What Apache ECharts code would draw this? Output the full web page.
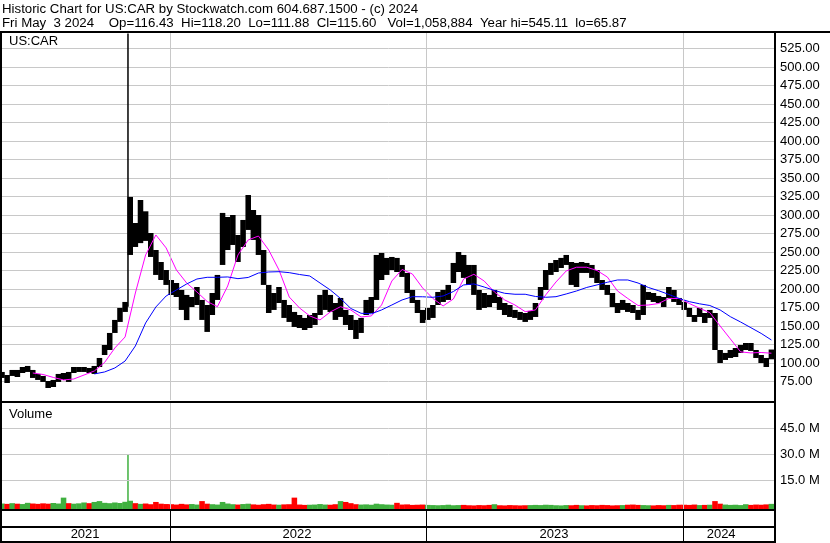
<!DOCTYPE html>
<html><head><meta charset="utf-8">
<script src="https://cdn.jsdelivr.net/npm/echarts@6/dist/echarts.min.js"></script>
<style>html,body{margin:0;padding:0;background:#fff}#c{width:830px;height:543px}</style>
</head><body><div id="c"></div>
<script>
// Weekly price ranges (week index 0 = first week shown, early May 2021)
const weekHigh = [87.9,83.8,90.6,90.6,94.6,96.0,90.6,85.2,82.5,75.7,77.1,85.2,86.5,87.9,94.6,94.6,94.6,93.3,96.0,106.8,
124.3,140.6,158.2,174.4,182.5,324.4,289.2,320.3,305,275.7,252.7,236.5,225.7,212.2,208.1,198.7,192,189.2,202.7,185.2,
178.4,194.6,219,302.8,297.3,300,273,293.3,327,306.8,300,252.7,205.5,194.6,202.7,185.2,178.4,169,164.9,160.9,
164.9,167.6,192,198.7,192,181.1,187.9,171.7,164.9,158.2,160.9,185.2,189.2,246,248.7,242,243.3,242,232.5,221.7,
198.7,185.2,171.7,174.4,178.4,196,198.7,205.5,235.2,250,246,232.5,232.5,198.7,194.6,192,198.7,189.2,181.1,178.4,
171.7,169,167.6,170.3,181.1,202.7,225.7,235.2,239.2,242,246,236.5,235.2,236.5,235.2,232.5,225.7,212.2,205.5,194.6,
181.1,185.2,181.1,178.4,171.7,205.5,196,194.6,190.6,189.2,202.7,198.7,187.9,182.5,174.4,164.9,174.4,167.6,171.7,167.6,
117.6,113.6,117.6,120.3,124.3,127,127,117.6,110.8,106.8,118.2];
const weekLow = [79.8,73.0,82.5,81.1,86.5,87.9,79.8,77.1,74.4,66.2,67.6,74.4,77.1,74.4,86.5,87.9,87.9,86.5,85.2,94.6,
110.8,117.6,140.6,155.5,169.0,246.0,256.8,262,265,243.3,219,212.2,205.5,191.9,189.2,171.7,158,175.7,178.4,158.2,
142,164.9,185.2,232.5,252.7,259.5,236.5,256.8,279.8,266.3,246,205.5,167.6,171.7,181.1,160.9,155.5,148.7,147.3,144.6,
147.3,151.4,164.9,171.7,169,158.2,162.2,151.4,144.6,132.5,140.6,164.9,167.6,185.2,212.2,219,225.7,223,216.3,194.6,
181.1,167.6,154.1,158.2,160.9,178.4,182.5,185.2,208.1,223,215,205.5,192,171.7,174.4,175.7,181.1,171.7,164.9,162.2,
160.9,158.2,155.5,158.2,162.2,185.2,198.7,219,223,228.4,232.5,205.5,202.7,221.7,221.7,215,208.1,198.7,192,175.7,
167.6,171.7,169,167.6,158.2,164.9,185.2,182.5,181.1,175.7,187.9,182.5,178.4,171.7,162.2,155.5,162.2,154.1,160.9,117.6,
100,104.1,106.8,108.1,113.6,117.6,116.3,106.8,100,94.6,105];
// Typical daily volume per week, millions
const weekVolume = [1.6,1.4,1.8,1.5,1.3,2.0,1.6,1.4,1.7,1.5,1.9,1.6,5.0,1.8,1.5,1.7,2.2,1.8,2.5,3.0,
2.0,1.8,2.2,1.9,2.6,3.2,1.8,1.4,1.6,1.2,2.5,1.5,1.3,
1.2,1.0,1.4,1.1,1.3,1.0,3.0,1.5,1.2,1.0,2.5,1.6,1.2,1.0,1.3,1.5,1.1,0.9,1.2,1.4,
1.0,0.9,1.1,1.2,5.0,1.0,0.8,0.9,1.0,1.3,1.0,0.9,1.2,3.0,2.5,1.8,1.2,1.0,1.1,0.9,
1.5,1.2,1.0,0.9,2.0,1.0,1.1,0.8,0.9,1.0,
0.8,0.7,0.6,0.7,0.9,0.6,0.7,0.8,0.6,0.5,0.7,0.6,0.8,1.2,0.6,0.5,0.7,0.6,0.5,0.6,
0.7,0.8,0.7,0.9,0.8,0.6,0.5,0.7,0.6,0.8,0.6,0.5,0.7,0.6,0.8,0.7,0.5,0.6,0.7,0.9,
1.0,0.8,0.7,0.6,0.5,0.7,0.6,0.8,0.7,0.9,
0.9,0.8,1.0,0.7,0.8,0.9,3.0,1.5,1.0,0.8,0.9,0.7,1.2,0.8,1.0,0.9,1.1,1.4];
// Single-day spike (Nov 2 2021)
const spikeWeek = 24.56, spikeHigh = 545.11, spikeLow = 176, spikeVolume = 30;
// Moving averages sampled every 2 weeks
const maFastStart = 6, maSlowStart = 18, maStep = 2;
const maFast = [86.5,84.5,80.5,77.1,78.4,83.8,89.2,100.7,120.3,135.2,194.6,246,273,255.5,225.7,208.1,196,183.1,176.1,204.1,
246,266.3,271.6,252.7,225.7,189.2,174.4,163.6,158.2,169,176.1,171.7,162.2,163.6,178.4,210.8,226.4,220.3,201.4,187.2,
177.1,186.5,213.5,219.9,210.8,196,185.2,178.4,169.4,171.7,192,209.5,224.4,229.4,229.4,225,216.3,197.3,187.2,177.7,
178.4,180.4,187.2,187.2,180.4,174,168,150,132.5,115,113.6,114.2,113.2];
const maSlow = [85.2,87.9,93.3,102.7,123,154.1,175.7,190.6,198.7,206.8,213.5,215.8,215.8,216.3,214,215.6,221.6,223,223.4,222.1,
219.6,217.6,208.1,198.7,187.2,173.7,167.2,166.5,171.7,178.4,185.2,189.6,189.5,188.8,190.6,196.6,205.5,206.8,202.7,198,
194.2,192.9,192.9,189.9,188.8,189.6,193.3,197.3,202.1,205.5,209.1,212.2,212.2,208.1,202.1,197.7,192.6,187.2,182.9,180,
177.7,171.7,162.6,155.4,147.7,140,131.1];
const yearLabels = ['2021','2022','2023','2024'];
const yearStarts = [32.75, 82.65, 132.75];
const yearLabelPos = [16.2, 57.5, 107.6, 140.2];
const volumeTicks = [15, 30, 45];
const headerLine1 = 'Historic Chart for US:CAR by Stockwatch.com 604.687.1500 - (c) 2024';
const headerLine2 = 'Fri May  3 2024    Op=116.43  Hi=118.20  Lo=111.88  Cl=115.60   Vol=1,058,884  Year hi=545.11  lo=65.87';
const symbolLabel = 'US:CAR';
const volumeLabel = 'Volume';

const FONT = 'Liberation Sans, Arial, sans-serif';
const XMAX = 150.7;
const GREEN = '#3fb03f', RED = '#ff0000', GRID = '#c8c8c8';

const priceData = weekHigh.map((h, i) => [i, h, weekLow[i]]);
const volData = weekVolume.map((v, i) => {
  const mid = (weekHigh[i] + weekLow[i]) / 2;
  const prev = i > 0 ? (weekHigh[i-1] + weekLow[i-1]) / 2 : mid;
  return [i, v, mid >= prev ? 1 : 0];
});

function priceBar(params, api) {
  const x = api.value(0);
  const p1 = api.coord([x, api.value(1)]);
  const p2 = api.coord([x, api.value(2)]);
  const w = api.size([1, 0])[0];
  return {type: 'rect', shape: {x: p1[0] - w / 2 - 0.2, y: p1[1], width: w + 0.4, height: Math.max(1, p2[1] - p1[1])}, style: {fill: '#000'}};
}
function spikeBar(params, api) {
  const x = api.value(0);
  const p1 = api.coord([x, api.value(1)]);
  const p2 = api.coord([x, api.value(2)]);
  return {type: 'rect', shape: {x: p1[0] - 0.75, y: p1[1], width: 1.5, height: p2[1] - p1[1]}, style: {fill: '#000'}};
}
function volBar(params, api) {
  const x = api.value(0);
  const p = api.coord([x, api.value(1)]);
  const cs = params.coordSys;
  const w = api.size([1, 0])[0];
  return {type: 'rect', shape: {x: p[0] - w / 2 - 0.2, y: p[1], width: w + 0.4, height: cs.y + cs.height - p[1]}, style: {fill: api.value(2) ? GREEN : RED}};
}
function volSpike(params, api) {
  const x = api.value(0);
  const p = api.coord([x, api.value(1)]);
  const cs = params.coordSys;
  return {type: 'rect', shape: {x: p[0] - 0.75, y: p[1], width: 1.5, height: cs.y + cs.height - p[1]}, style: {fill: GREEN}};
}

const vGrid = (color) => ({silent: true, symbol: 'none', animation: false, label: {show: false},
  lineStyle: {color: color, type: 'solid', width: 1}, data: yearStarts.map(v => ({xAxis: v}))});

const frame = [];
[[0,31,830,2],[0,31,2,512],[774,31,2,512],[0,401,776,2],[0,509,776,2],[0,526,776,2],[0,541,776,2]].forEach(r => {
  frame.push({type: 'rect', z: 100, silent: true, shape: {x: r[0], y: r[1], width: r[2], height: r[3]}, style: {fill: '#000'}});
});
const txt = (s, x, y, size) => ({type: 'text', z: 100, silent: true, x: x, y: y,
  style: {text: s, fill: '#000', font: size + 'px ' + FONT, verticalAlign: 'middle', align: 'left'}});
frame.push(txt(headerLine1, 2, 9.5, 13.25), txt(headerLine2, 2, 23.2, 13.25), txt(symbolLabel, 9, 41.2, 13), txt(volumeLabel, 9, 414.5, 13));

const chart = echarts.init(document.getElementById('c'), null, {renderer: 'canvas'});
chart.setOption({
  animation: false,
  backgroundColor: '#fff',
  textStyle: {fontFamily: FONT},
  grid: [
    {left: 2, top: 32, width: 773, height: 368},
    {left: 2, top: 403, width: 773, height: 106},
    {left: 2, top: 511, width: 773, height: 15}
  ],
  xAxis: [
    {type: 'value', gridIndex: 0, min: 0, max: XMAX, show: false},
    {type: 'value', gridIndex: 1, min: 0, max: XMAX, show: false},
    {type: 'value', gridIndex: 2, min: 0, max: XMAX, position: 'bottom',
      axisLine: {show: false}, splitLine: {show: false},
      axisTick: {show: true, customValues: yearStarts, length: 15, lineStyle: {color: '#000', width: 1}},
      axisLabel: {customValues: yearLabelPos, margin: 2, color: '#000', fontSize: 13, fontFamily: FONT,
        formatter: v => { let k = 0, d = 1e9; yearLabelPos.forEach((p, i) => { if (Math.abs(p - v) < d) { d = Math.abs(p - v); k = i; } }); return yearLabels[k]; }}}
  ],
  yAxis: [
    {type: 'value', gridIndex: 0, position: 'right', min: 50, max: 547.3, interval: 25,
      axisLine: {show: false}, axisTick: {show: false},
      axisLabel: {margin: 5, color: '#000', fontSize: 13, fontFamily: FONT, showMaxLabel: false, showMinLabel: false,
        formatter: v => (v < 75 || v > 525) ? '' : v.toFixed(2)},
      splitLine: {show: true, showMinLine: false, showMaxLine: false, lineStyle: {color: GRID, width: 1}}},
    {type: 'value', gridIndex: 1, position: 'right', min: -1.56, max: 59.6,
      axisLine: {show: false}, axisTick: {show: false}, splitLine: {show: false},
      axisLabel: {customValues: volumeTicks, margin: 5, color: '#000', fontSize: 13, fontFamily: FONT,
        formatter: v => v.toFixed(1) + ' M'}},
    {type: 'value', gridIndex: 2, min: 0, max: 1, show: false}
  ],
  series: [
    {type: 'line', xAxisIndex: 0, yAxisIndex: 0, data: [], z: 1, markLine: vGrid(GRID)},
    {type: 'line', xAxisIndex: 1, yAxisIndex: 1, data: [], z: 1,
      markLine: Object.assign(vGrid(GRID), {data: yearStarts.map(v => ({xAxis: v})).concat(volumeTicks.map(v => ({yAxis: v})))})},
    {type: 'line', xAxisIndex: 2, yAxisIndex: 2, data: [], z: 1, markLine: vGrid('#000')},
    {type: 'custom', name: 'price', xAxisIndex: 0, yAxisIndex: 0, clip: true, z: 3, renderItem: priceBar, data: priceData, encode: {x: 0, y: [1, 2]}},
    {type: 'custom', name: 'spike', xAxisIndex: 0, yAxisIndex: 0, clip: true, z: 3, renderItem: spikeBar, data: [[spikeWeek, spikeHigh, spikeLow]], encode: {x: 0, y: [1, 2]}},
    {type: 'line', name: 'MA fast', xAxisIndex: 0, yAxisIndex: 0, z: 4, showSymbol: false, symbol: 'none',
      lineStyle: {color: '#ff00ff', width: 1}, data: maFast.map((v, i) => [maFastStart + i * maStep, v])},
    {type: 'line', name: 'MA slow', xAxisIndex: 0, yAxisIndex: 0, z: 4, showSymbol: false, symbol: 'none',
      lineStyle: {color: '#0000ff', width: 1}, data: maSlow.map((v, i) => [maSlowStart + i * maStep, v])},
    {type: 'custom', name: 'volume', xAxisIndex: 1, yAxisIndex: 1, clip: true, z: 3, renderItem: volBar, data: volData, encode: {x: 0, y: 1}},
    {type: 'custom', name: 'volSpike', xAxisIndex: 1, yAxisIndex: 1, clip: true, z: 3, renderItem: volSpike, data: [[spikeWeek, spikeVolume]], encode: {x: 0, y: 1}}
  ],
  graphic: frame
});
</script></body></html>
